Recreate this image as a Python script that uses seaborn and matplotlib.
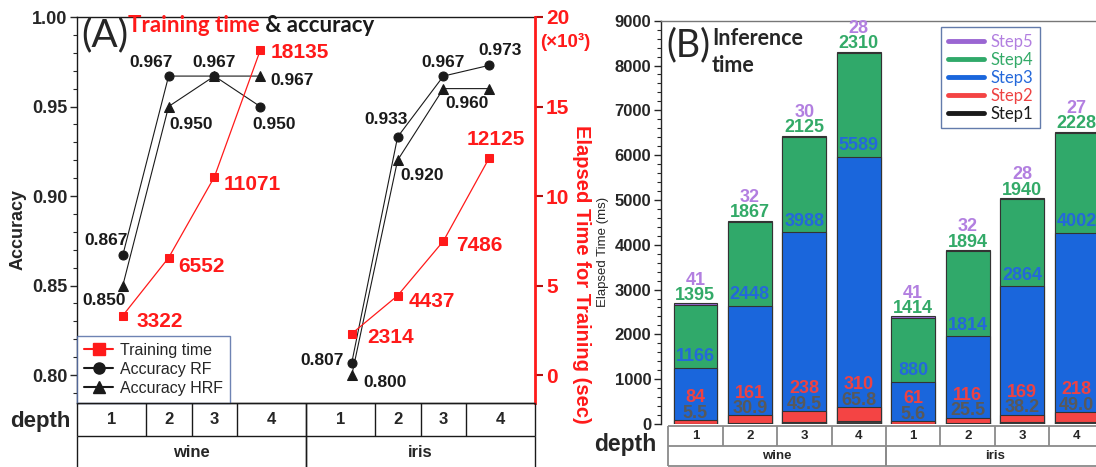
import numpy as np
import pandas as pd
import matplotlib.pyplot as plt
import seaborn as sns
from matplotlib.lines import Line2D

# ---------------- data ----------------
datasets = ['wine', 'iris']
depths = [1, 2, 3, 4]

acc_rf_wine = [0.867, 0.967, 0.967, 0.950]
acc_rf_iris = [0.807, 0.933, 0.967, 0.973]
acc_hrf_wine = [0.850, 0.950, 0.967, 0.967]
acc_hrf_iris = [0.800, 0.920, 0.960, 0.960]
train_wine = [3322, 6552, 11071, 18135]   # training time (sec)
train_iris = [2314, 4437, 7486, 12125]

# inference time per step (ms)
step1_wine = [5.5, 30.9, 49.5, 65.8]
step2_wine = [84, 161, 238, 310]
step3_wine = [1166, 2448, 3988, 5589]
step4_wine = [1395, 1867, 2125, 2310]
step5_wine = [41, 32, 30, 28]
step1_iris = [5.6, 25.5, 38.2, 49.0]
step2_iris = [61, 116, 169, 218]
step3_iris = [880, 1814, 2864, 4002]
step4_iris = [1414, 1894, 1940, 2228]
step5_iris = [41, 32, 28, 27]

step_names = ['Step1', 'Step2', 'Step3', 'Step4', 'Step5']
bar_colors = ['#3d3d3d', '#f44444', '#1a66dc', '#30a96a', '#9a66d2']
lbl_colors = ['#595959', '#ee4242', '#2468da', '#33aa68', '#b27fe0']

# ---------------- tables ----------------
dfA = pd.DataFrame({
    'dataset': np.repeat(datasets, 4),
    'depth': depths * 2,
    'rf': acc_rf_wine + acc_rf_iris,
    'hrf': acc_hrf_wine + acc_hrf_iris,
    'train': train_wine + train_iris,
})
dfA['group'] = dfA['dataset'].map({d: i for i, d in enumerate(datasets)})
dfA['pos'] = dfA['group'] * 5 + dfA['depth'] - 1
dfA['train_k'] = dfA['train'] / 1000

dfB = pd.DataFrame({
    'dataset': np.repeat(datasets, 4),
    'depth': depths * 2,
    'Step1': step1_wine + step1_iris,
    'Step2': step2_wine + step2_iris,
    'Step3': step3_wine + step3_iris,
    'Step4': step4_wine + step4_iris,
    'Step5': step5_wine + step5_iris,
})
dfB['key'] = dfB['dataset'] + '-' + dfB['depth'].astype(str)
keys = list(dfB['key'])

# ---------------- figure ----------------
sns.set_theme(style='ticks')
plt.rcParams['font.family'] = ['Liberation Sans', 'DejaVu Sans']
plt.rcParams['axes.linewidth'] = 1.0
CAL = ['Lato', 'DejaVu Sans']   # stand-in for the Calibri-like texts

W, H = 1096, 467
def fx(px):
    return px / W
def fy(py):
    return 1 - py / H

fig = plt.figure(figsize=(W / 100, H / 100), dpi=100)

# ===== Panel A =====
axA = fig.add_axes([fx(77), fy(403), (535 - 77) / W, (403 - 17) / H])
ax2 = axA.twinx()

sns.lineplot(data=dfA, x='pos', y='rf', units='dataset', estimator=None, color='k',
             lw=0.8, marker='o', ms=6.5, mec='k', mfc='k', ax=axA)
sns.lineplot(data=dfA, x='pos', y='hrf', units='dataset', estimator=None, color='k',
             lw=0.8, marker='^', ms=7, mec='k', mfc='k', ax=axA)
sns.lineplot(data=dfA, x='pos', y='train_k', units='dataset', estimator=None, color='#ff1a1a',
             lw=0.9, marker='s', ms=6, mec='#ff1a1a', mfc='#ff1a1a', ax=ax2)

axA.set_xlim(-1, 9)
axA.set_ylim(0.7844, 1.0)
ax2.set_ylim(-1.56, 20)
axA.set_yticks([0.80, 0.85, 0.90, 0.95, 1.00])
axA.set_yticks(np.arange(0.79, 1.0, 0.01), minor=True)
ax2.set_yticks([0, 5, 10, 15, 20])
axA.set_xticks([])
axA.set_xlabel('')
axA.set_ylabel('')
ax2.set_ylabel('')
axA.tick_params(axis='y', which='major', direction='out', length=5, width=1, labelsize=13, pad=2)
axA.tick_params(axis='y', which='minor', direction='out', length=3, width=0.8)
ax2.tick_params(axis='y', direction='out', length=6, width=1.5, color='#b01010',
                labelcolor='#ff1a1a', labelsize=15, pad=2)
axA.set_yticklabels(['%.2f' % v for v in axA.get_yticks()], fontweight='bold')
for lb in ax2.get_yticklabels():
    lb.set_fontweight('bold')
for sp in ['left', 'top', 'bottom']:
    axA.spines[sp].set_color('k')
axA.spines['right'].set_visible(False)
ax2.spines['right'].set_color('#ff1a1a')
ax2.spines['right'].set_linewidth(2)
for sp in ['left', 'top', 'bottom']:
    ax2.spines[sp].set_visible(False)

def lab(ax, x, y, s, dx, dy, **kw):
    ax.annotate(s, (x, y), xytext=(dx, -dy), textcoords='offset pixels',
                ha='center', va='center', fontweight='bold', **kw)

rf_off = [(-17, -15), (-18, -14), (0, -14), (14, 18), (-30, -2), (-12, -17), (0, -14), (11, -15)]
hrf_off = [(-19, 15), (23, 18), None, (32, 4), (33, 7), (25, 15), (24, 15), None]
tr_off = [(37, 6), (33, 9), (38, 8), (40, 2), (39, 4), (34, 6), (36, 4), (7, -18)]
for i, r in dfA.iterrows():
    lab(axA, r['pos'], r['rf'], '%.3f' % r['rf'], *rf_off[i], fontsize=12.5, color='k')
    if hrf_off[i] is not None:
        lab(axA, r['pos'], r['hrf'], '%.3f' % r['hrf'], *hrf_off[i], fontsize=12.5, color='k')
    lab(ax2, r['pos'], r['train_k'], '%d' % r['train'], *tr_off[i], fontsize=15, color='#ff1a1a')

handles = [
    Line2D([], [], color='#ff1a1a', marker='s', ms=8, lw=1.5, label='Training time'),
    Line2D([], [], color='k', marker='o', ms=8, lw=1.5, label='Accuracy RF'),
    Line2D([], [], color='k', marker='^', ms=8, lw=1.5, label='Accuracy HRF'),
]
legA = axA.legend(handles=handles, loc='lower left', bbox_to_anchor=(0.0, 0.0), borderaxespad=0,
                  fontsize=11.5, frameon=True, fancybox=False, edgecolor='#4a64a0',
                  handlelength=1.8, handletextpad=0.45, labelspacing=0.25, borderpad=0.45)
legA.get_frame().set_linewidth(1)
legA.set_zorder(5)

# title / labels for A
fig.text(fx(105), fy(35), '(A)', fontsize=28, family=CAL, ha='center', va='center')
t1 = fig.text(fx(128), fy(25), 'Training time', color='#ff1a1a', fontsize=16, fontweight='bold',
              family=CAL, ha='left', va='center')
axA.annotate(' & accuracy', xy=(1, 0.5), xycoords=t1, ha='left', va='center', fontsize=16,
             fontweight='bold', family=CAL, color='k')
fig.text(fx(565), fy(42), '(\u00d710\u00b3)', color='#ff1a1a', fontsize=13.5, fontweight='bold',
         ha='center', va='center')
fig.text(fx(18), fy(229), 'Accuracy', rotation=90, fontsize=13, fontweight='bold', ha='center', va='center')
fig.text(fx(582), fy(274), 'Elapsed Time for Training (sec)', rotation=-90, fontsize=14.5,
         fontweight='bold', color='#ff1a1a', ha='center', va='center')
fig.text(fx(40), fy(421), 'depth', fontsize=16, fontweight='bold', ha='center', va='center')

# table under A
tA = fig.add_axes([fx(77), fy(469), (535 - 77) / W, 66 / H])
tA.set_xlim(-1, 9)
tA.set_ylim(0, 2)
tA.axis('off')
tA.hlines([2, 1], -1, 9, color='k', lw=1, clip_on=False)
for g, ds in enumerate(datasets):
    pos = list(dfA.loc[dfA['dataset'] == ds, 'pos'])
    bounds = [pos[0] - 1] + [(a + b) / 2 for a, b in zip(pos[:-1], pos[1:])] + [pos[-1] + 1]
    tA.vlines(bounds, 1, 2, color='k', lw=1, clip_on=False)
    tA.vlines([bounds[0], bounds[-1]], 0, 1, color='k', lw=1, clip_on=False)
    for d, a, b in zip(depths, bounds[:-1], bounds[1:]):
        tA.text((a + b) / 2, 1.5, str(d), ha='center', va='center', fontsize=12, fontweight='bold')
    tA.text((bounds[0] + bounds[-1]) / 2, 0.5, ds, ha='center', va='center', fontsize=12, fontweight='bold')

# ===== Panel B =====
axB = fig.add_axes([fx(661), fy(424), 450 / W, (424 - 20.7) / H])
for k in range(5, 0, -1):
    cum = dfB[step_names[:k]].sum(axis=1)
    sns.barplot(x=dfB['key'], y=cum, order=keys, color=bar_colors[k - 1], saturation=1,
                edgecolor='#333333', linewidth=0.8, width=0.8, errorbar=None, ax=axB)

axB.set_xlim(-0.63, 7.63)
axB.set_ylim(0, 9000)
axB.set_yticks(np.arange(0, 9001, 1000))
axB.set_yticks(np.arange(0, 9001, 200), minor=True)
axB.set_xticks([])
axB.set_xlabel('')
axB.set_ylabel('')
axB.tick_params(axis='y', which='major', direction='out', length=5, width=1, labelsize=12, pad=2)
axB.tick_params(axis='y', which='minor', direction='out', length=3, width=0.8)
for lb in axB.get_yticklabels():
    lb.set_fontweight('bold')
axB.spines['top'].set_color('#777777')
axB.spines['bottom'].set_visible(False)
axB.spines['right'].set_visible(False)

for i, r in dfB.iterrows():
    c2 = r['Step1'] + r['Step2']
    c3 = c2 + r['Step3']
    c4 = c3 + r['Step4']
    c5 = c4 + r['Step5']
    kw = dict(ha='center', va='center', fontsize=13, fontweight='bold')
    axB.text(i, c2 + 150, '%.1f' % r['Step1'], color=lbl_colors[0], **kw)
    axB.text(i, c2 + 495, '%d' % r['Step2'], color=lbl_colors[1], **kw)
    axB.text(i, c3 + 250, '%d' % r['Step3'], color=lbl_colors[2], **kw)
    axB.text(i, c4 + 210, '%d' % r['Step4'], color=lbl_colors[3], **kw)
    axB.text(i, c5 + 520, '%d' % r['Step5'], color=lbl_colors[4], **kw)

hB = [Line2D([], [], color=bar_colors[k] if k else 'k', lw=3.5, label=step_names[k]) for k in range(4, -1, -1)]
legB = axB.legend(handles=hB, loc='upper left', bbox_to_anchor=(0.622, 0.984), borderaxespad=0,
                  prop={'family': 'Lato', 'size': 12}, frameon=True, fancybox=False,
                  edgecolor='#3c5a96', handlelength=2.2, handletextpad=0.4, labelspacing=0.12,
                  borderpad=0.4, labelcolor=[lbl_colors[k] if k else 'k' for k in range(4, -1, -1)])
legB.get_frame().set_linewidth(1)

fig.text(fx(688), fy(45), '(B)', fontsize=27, family=CAL, ha='center', va='center')
fig.text(fx(712), fy(52), 'Inference\ntime', fontsize=15.5, fontweight='bold', family=CAL,
         ha='left', va='center', linespacing=1.3)
fig.text(fx(603), fy(252), 'Elapsed Time (ms)', rotation=90, fontsize=9.5, ha='center', va='center')
fig.text(fx(625), fy(444), 'depth', fontsize=16.5, fontweight='bold', ha='center', va='center')

# table under B
tB = fig.add_axes([fx(661), fy(466), 450 / W, 40 / H])
tB.set_xlim(-0.63, 7.63)
tB.set_ylim(0, 2)
tB.axis('off')
tc = '#8a8a8a'
tB.hlines([0, 1, 2], -0.5, 7.63, color=tc, lw=1.3, clip_on=False)
edges = np.arange(len(keys) + 1) - 0.5
tB.vlines(edges, 1, 2, color=tc, lw=1.3, clip_on=False)
for g, ds in enumerate(datasets):
    idx = list(dfB.index[dfB['dataset'] == ds])
    tB.vlines([idx[0] - 0.5, idx[-1] + 0.5], 0, 1, color=tc, lw=1.3, clip_on=False)
    tB.text((idx[0] + idx[-1]) / 2, 0.5, ds, ha='center', va='center', fontsize=9.5, fontweight='bold')
for i, r in dfB.iterrows():
    tB.text(i, 1.5, str(r['depth']), ha='center', va='center', fontsize=9.5, fontweight='bold')

fig.savefig('out.png', dpi=100)
